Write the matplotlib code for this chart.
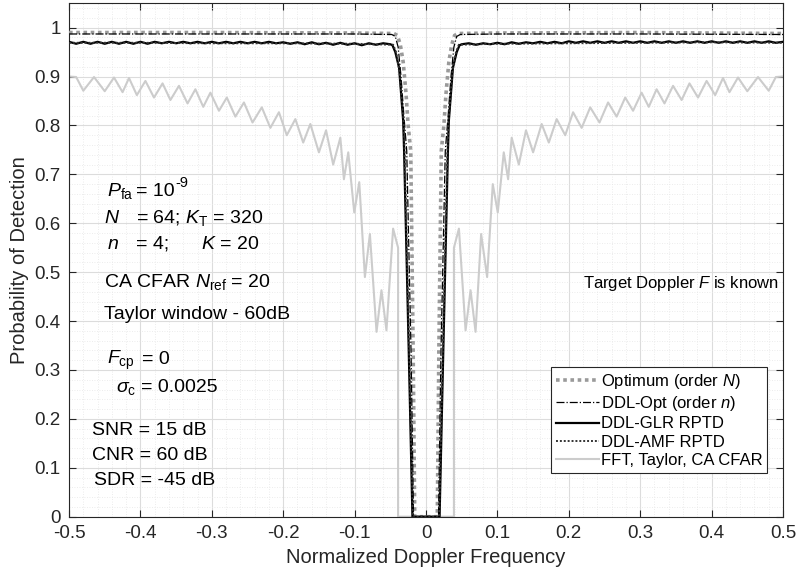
import numpy as np
import matplotlib.pyplot as plt
from matplotlib.ticker import MultipleLocator

plt.rcParams['font.family'] = ['Liberation Sans', 'DejaVu Sans']
plt.rcParams['mathtext.fontset'] = 'custom'
plt.rcParams['mathtext.rm'] = 'Liberation Sans'
plt.rcParams['mathtext.it'] = 'Liberation Sans:italic'
plt.rcParams['mathtext.sf'] = 'Liberation Sans'

# Optimum detector (order N)
opt_f = [-0.5, -0.3, -0.1, -0.045, -0.040, -0.036, -0.032, -0.028, -0.025, -0.0214, -0.018, -0.0158,
         0.0158, 0.018, 0.0214, 0.025, 0.028, 0.032, 0.036, 0.040, 0.045, 0.1, 0.3, 0.5]
opt_p = [0.990, 0.990, 0.989, 0.988, 0.984, 0.965, 0.93, 0.865, 0.80, 0.748, 0.34, 0.0,
         0.0, 0.34, 0.748, 0.80, 0.865, 0.93, 0.965, 0.984, 0.988, 0.989, 0.990, 0.988]

# DDL-Opt (order n)
ddlopt_f = [-0.5, -0.3, -0.1, -0.048, -0.043, -0.039, -0.035, -0.031, -0.027, -0.021, -0.0175,
            0.0175, 0.021, 0.027, 0.031, 0.035, 0.039, 0.043, 0.048, 0.1, 0.3, 0.5]
ddlopt_p = [0.987, 0.987, 0.987, 0.986, 0.982, 0.96, 0.90, 0.82, 0.748, 0.34, 0.0,
            0.0, 0.34, 0.748, 0.82, 0.90, 0.96, 0.982, 0.986, 0.987, 0.987, 0.986]

# DDL-GLR RPTD: wavy plateaus either side of the clutter notch
glr_left_f = np.linspace(-0.50, -0.05, 46)
glr_left_p = [0.971, 0.967, 0.971, 0.967, 0.971, 0.967, 0.971, 0.967, 0.971, 0.967,
              0.971, 0.967, 0.971, 0.968, 0.971, 0.968, 0.971, 0.968, 0.971, 0.968,
              0.971, 0.968, 0.971, 0.968, 0.971, 0.968, 0.971, 0.968, 0.971, 0.968,
              0.970, 0.967, 0.970, 0.966, 0.970, 0.966, 0.969, 0.965, 0.969, 0.965,
              0.968, 0.964, 0.968, 0.965, 0.968, 0.966]
glr_notch_f = [-0.047, -0.043, -0.0377, -0.032, -0.0307, -0.0242, -0.019,
               0.019, 0.0242, 0.0307, 0.032, 0.0377, 0.043, 0.047]
glr_notch_p = [0.964, 0.95, 0.918, 0.81, 0.748, 0.34, 0.0,
               0.0, 0.34, 0.748, 0.81, 0.918, 0.95, 0.964]
glr_right_f = np.linspace(0.05, 0.50, 46)
glr_right_p = [0.966, 0.968, 0.965, 0.968, 0.966, 0.969, 0.966, 0.970, 0.967, 0.970,
               0.968, 0.971, 0.968, 0.971, 0.968, 0.972, 0.969, 0.972, 0.969, 0.972,
               0.969, 0.972, 0.969, 0.972, 0.969, 0.972, 0.969, 0.972, 0.969, 0.972,
               0.969, 0.972, 0.969, 0.972, 0.969, 0.972, 0.969, 0.972, 0.969, 0.972,
               0.969, 0.972, 0.969, 0.972, 0.969, 0.971]

# DDL-AMF RPTD
amf_f = [-0.5, -0.4, -0.3, -0.2, -0.1, -0.046, -0.042, -0.037, -0.031, -0.030, -0.0235, -0.0185,
         0.0185, 0.0235, 0.030, 0.031, 0.037, 0.042, 0.046, 0.1, 0.2, 0.3, 0.4, 0.5]
amf_p = [0.969, 0.969, 0.968, 0.968, 0.967, 0.965, 0.95, 0.91, 0.80, 0.748, 0.34, 0.0,
         0.0, 0.34, 0.748, 0.80, 0.91, 0.95, 0.965, 0.967, 0.968, 0.969, 0.970, 0.969]

# FFT, Taylor window, CA CFAR (peaks and nulls of the scalloping)
fft_f = [-0.500, -0.490, -0.480, -0.465, -0.450, -0.437, -0.425, -0.416, -0.405, -0.393, -0.381,
         -0.369, -0.358, -0.346, -0.334, -0.323, -0.312, -0.302, -0.290, -0.279, -0.267, -0.255,
         -0.243, -0.230, -0.218, -0.206, -0.195, -0.183, -0.172, -0.162, -0.150, -0.140, -0.130,
         -0.1200, -0.1150, -0.1089, -0.1005, -0.0935, -0.0856, -0.0786, -0.0693, -0.0624, -0.0554,
         -0.0461, -0.0391, -0.0391,
         0.0391, 0.0391, 0.0461, 0.0554, 0.0624, 0.0694, 0.0772, 0.0856, 0.0935, 0.1005, 0.1089,
         0.1150, 0.1200, 0.130, 0.140, 0.150, 0.162, 0.172, 0.183, 0.195, 0.206, 0.218, 0.230,
         0.243, 0.255, 0.267, 0.279, 0.290, 0.302, 0.312, 0.323, 0.334, 0.346, 0.358, 0.369,
         0.381, 0.393, 0.405, 0.416, 0.425, 0.437, 0.450, 0.465, 0.480, 0.490, 0.500]
fft_p = [0.900, 0.899, 0.871, 0.899, 0.870, 0.898, 0.868, 0.897, 0.862, 0.891, 0.857,
         0.886, 0.852, 0.881, 0.845, 0.874, 0.838, 0.867, 0.830, 0.857, 0.818, 0.847,
         0.806, 0.837, 0.795, 0.827, 0.780, 0.813, 0.765, 0.803, 0.745, 0.790, 0.720,
         0.775, 0.690, 0.745, 0.622, 0.684, 0.490, 0.578, 0.378, 0.463, 0.381,
         0.589, 0.550, 0.0,
         0.0, 0.550, 0.589, 0.381, 0.463, 0.378, 0.578, 0.490, 0.680, 0.622, 0.745,
         0.690, 0.775, 0.720, 0.790, 0.745, 0.803, 0.765, 0.813, 0.780, 0.827, 0.795, 0.837,
         0.806, 0.847, 0.818, 0.857, 0.830, 0.867, 0.838, 0.874, 0.845, 0.881, 0.852, 0.886,
         0.857, 0.891, 0.862, 0.897, 0.868, 0.898, 0.870, 0.899, 0.871, 0.899, 0.900]

glr_f = list(glr_left_f) + glr_notch_f + list(glr_right_f)
glr_p = glr_left_p + glr_notch_p + glr_right_p

fig = plt.figure(figsize=(7.98, 5.77), dpi=100)
ax = fig.add_axes([0.0865, 0.1045, 0.8947, 0.890])

ax.plot(opt_f, opt_p, color='#9a9a9a', ls=(0, (1, 1)), lw=2.6, label='Optimum (order $N$)', zorder=3)
ax.plot(ddlopt_f, ddlopt_p, color='black', ls='-.', lw=0.9, label='DDL-Opt (order $n$)', zorder=4)
ax.plot(glr_f, glr_p, color='black', ls='-', lw=1.6, label='DDL-GLR RPTD', zorder=5)
ax.plot(amf_f, amf_p, color='#333333', ls=(0, (1, 1)), lw=1.4, label='DDL-AMF RPTD', zorder=5)
ax.plot(fft_f, fft_p, color='#cccccc', ls='-', lw=1.5, label='FFT, Taylor, CA CFAR', zorder=2)

ax.set_xlim(-0.5, 0.5)
ax.set_ylim(0, 1.05)
ax.xaxis.set_minor_locator(MultipleLocator(0.02))
ax.yaxis.set_minor_locator(MultipleLocator(0.02))
ax.set_xticks(np.arange(-0.5, 0.51, 0.1))
ax.set_xticklabels(['-0.5', '-0.4', '-0.3', '-0.2', '-0.1', '0', '0.1', '0.2', '0.3', '0.4', '0.5'])
ax.set_yticks(np.arange(0, 1.01, 0.1))
ax.set_yticklabels(['0', '0.1', '0.2', '0.3', '0.4', '0.5', '0.6', '0.7', '0.8', '0.9', '1'])
ax.tick_params(which='major', direction='in', length=5, width=0.8, top=True, right=True,
               labelsize=13.5, colors='#262626', pad=6)
ax.tick_params(which='minor', length=0, top=True, right=True)
ax.grid(which='major', color='#dcdcdc', lw=0.8, ls='-')
ax.grid(which='minor', color='#e6e6e6', lw=0.6, ls=(0, (1, 2)))
ax.set_axisbelow(True)
for s in ax.spines.values():
    s.set_color('#262626')
    s.set_linewidth(0.8)

ax.set_xlabel('Normalized Doppler Frequency', fontsize=14.5, color='#262626', labelpad=4)
ax.set_ylabel('Probability of Detection', fontsize=14.5, color='#262626', labelpad=4)

# parameter annotations
tk = dict(fontsize=14, color='black', va='baseline', ha='left')
ax.text(-0.4466, 0.656, '$P_{\\rm fa}$', **tk)
ax.text(-0.4061, 0.656, '= 10', **tk)
ax.text(-0.3507, 0.674, '-9', fontsize=10.5, va='baseline', ha='left')
ax.text(-0.4508, 0.600, '$N$', **tk)
ax.text(-0.4061, 0.600, '= 64; $K_{\\rm T}$ = 320', **tk)
ax.text(-0.4466, 0.548, '$n$', **tk)
ax.text(-0.4061, 0.548, '= 4;', **tk)
ax.text(-0.3154, 0.548, '$K$ = 20', **tk)
ax.text(-0.4508, 0.4694, 'CA CFAR $N_{\\rm ref}$ = 20', **tk)
ax.text(-0.4508, 0.4035, 'Taylor window - 60dB', **tk)
ax.text(-0.4466, 0.313, '$F_{\\rm cp}$', **tk)
ax.text(-0.3980, 0.313, '= 0', **tk)
ax.text(-0.4345, 0.255, '$\\sigma_{\\rm c}$', **tk)
ax.text(-0.3996, 0.255, '= 0.0025', **tk)
ax.text(-0.4676, 0.1667, 'SNR = 15 dB', **tk)
ax.text(-0.4676, 0.1157, 'CNR = 60 dB', **tk)
ax.text(-0.4648, 0.0647, 'SDR = -45 dB', **tk)

ax.text(0.494, 0.467, 'Target Doppler $F$ is known', fontsize=12, ha='right', va='baseline')

leg = ax.legend(loc='lower right', bbox_to_anchor=(0.978, 0.085), borderaxespad=0,
                fontsize=12, fancybox=False, framealpha=1, edgecolor='#262626',
                handlelength=2.6, labelspacing=0.2, handletextpad=0.1, borderpad=0.3)
leg.get_frame().set_linewidth(0.8)

fig.savefig('out.png', dpi=100)
